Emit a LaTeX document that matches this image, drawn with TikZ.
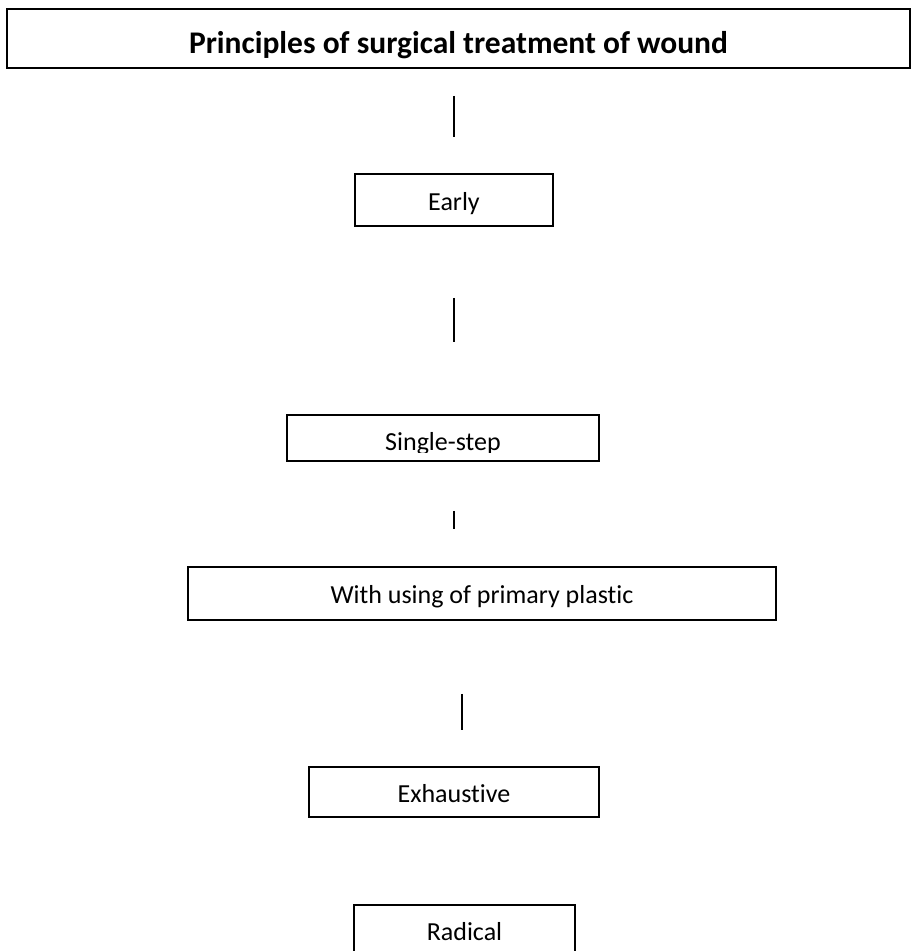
\documentclass[tikz,border=0pt]{standalone}
\usepackage{fontspec}
\setmainfont{Carlito}[Ligatures=NoCommon]
\usetikzlibrary{positioning}
\tikzset{
  box/.style={draw, line width=1.5pt, inner sep=0pt, text height=20pt, text depth=0pt,
    font=\fontsize{26}{30}\selectfont},
  link/.style={line width=1.5pt},
}

\begin{document}
\begin{tikzpicture}[x=1pt, y=-1pt]
    \useasboundingbox (0,0) rectangle (913,951);

    % Title
    \node[box, minimum width=903, minimum height=59, text height=29pt,
      font=\bfseries\fontsize{31.5}{36}\selectfont] (title) at (458.5,38.5) {Principles of surgical treatment of wound};

    % Steps
    \node[box, minimum width=198, minimum height=52] (early) at (454,200) {Early};
    \node[box, minimum width=312, minimum height=46] (single) at (443,438) {};
    \begin{scope}
        \clip (single.north west) rectangle ([yshift=9.5pt]single.south east);
        \node[anchor=base, font=\fontsize{26}{30}\selectfont] (singletxt) at ([yshift=11pt]single.south) {Single-step};
    \end{scope}
    \node[box, minimum width=588, minimum height=53] (plastic) at (482,593.5) {With using of primary plastic};
    \node[box, minimum width=290, minimum height=50] (exh) at (454,792) {Exhaustive};
    \node[box, minimum width=221, minimum height=100, anchor=north] (radical) at (464.5,904) {};
    \node[anchor=base, font=\fontsize{26}{30}\selectfont] (radicaltxt) at (464.5,940) {Radical};

    % Links
    \draw[link, shorten <=27pt, shorten >=36pt] (early.north |- title.south) -- (early.north);
    \draw[link, shorten <=71pt, shorten >=72pt] (early.south) -- (early.south |- single.north);
    \draw[link, shorten <=49pt, shorten >=37pt] (exh.north |- single.south) -- (exh.north |- plastic.north);
    \draw[link, shorten <=73pt, shorten >=36pt] ([xshift=8pt]exh.north |- plastic.south) -- ([xshift=8pt]exh.north);
\end{tikzpicture}
\end{document}
